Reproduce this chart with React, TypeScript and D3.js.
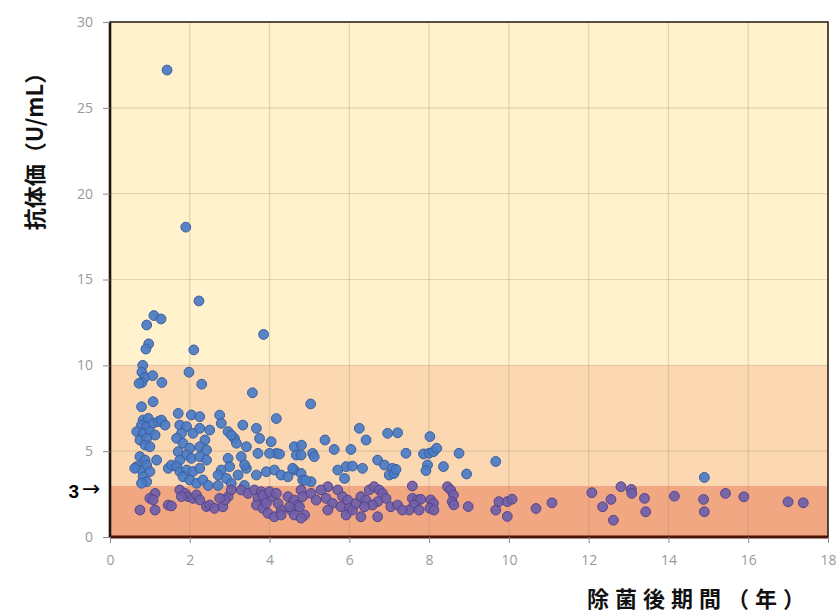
import React, { useEffect, useRef } from 'react';
import * as d3 from 'd3';

// [years after eradication, antibody titer U/mL]
const outliers: [number, number][] = [
  [1.43, 27.2], [1.9, 18.05], [2.23, 13.75], [1.1, 12.9], [1.28, 12.7], [0.92, 12.35],
  [0.97, 11.25], [0.9, 10.95], [2.1, 10.9], [0.82, 10.0], [1.98, 9.6], [0.8, 9.6],
  [0.87, 9.3], [1.07, 9.4], [0.8, 9.0], [1.3, 9.0], [2.3, 8.9], [0.73, 8.95],
  [3.85, 11.8], [3.57, 8.4], [5.03, 7.75], [4.17, 6.9],
];

const early: [number, number][] = [
  [0.79, 7.59], [1.08, 7.88], [0.83, 6.81], [0.96, 6.91], [0.79, 6.52], [0.92, 6.43],
  [1.08, 6.62], [1.21, 6.72], [1.29, 6.81], [1.38, 6.52], [0.67, 6.14], [0.83, 6.04],
  [1.0, 6.14], [1.13, 5.94], [0.75, 5.65], [0.92, 5.75], [0.88, 5.36], [1.0, 5.26],
  [1.71, 7.2], [2.04, 7.11], [2.25, 7.01], [1.75, 6.52], [1.92, 6.43], [1.79, 6.04],
  [1.67, 5.75], [2.08, 6.04], [2.25, 6.33], [2.38, 5.65], [1.83, 5.46], [2.0, 5.17],
  [2.25, 5.26], [2.42, 5.07], [1.71, 4.97], [1.92, 4.78], [1.75, 4.48], [2.04, 4.58],
  [2.25, 4.68], [2.42, 4.48], [0.75, 4.68], [0.88, 4.48], [0.67, 4.1], [0.79, 3.9],
  [0.92, 4.19], [1.0, 3.81], [1.17, 4.48], [0.83, 3.51], [0.92, 3.22], [0.79, 3.13],
  [1.46, 4.0], [1.54, 4.19], [1.67, 4.1], [1.75, 3.81], [1.92, 3.9], [2.08, 3.81],
  [2.25, 4.0], [1.83, 3.51], [2.0, 3.32], [2.17, 3.13], [2.33, 3.32], [0.62, 4.0],
  [1.13, 2.54], [1.0, 2.25], [1.08, 2.16], [1.75, 2.74], [1.88, 2.54], [1.96, 2.35],
  [2.08, 2.25], [1.79, 2.35], [2.17, 2.45], [2.25, 2.16], [0.75, 1.57], [1.13, 1.57],
  [1.46, 1.86], [1.54, 1.81], [2.42, 1.77],
];

const middle: [number, number][] = [
  [2.75, 7.1], [2.79, 6.62], [2.5, 6.23], [2.96, 6.14], [3.12, 5.74], [3.33, 6.52],
  [3.67, 6.33], [3.75, 5.74], [3.42, 5.26], [4.04, 5.55], [4.17, 4.87], [4.0, 4.87],
  [3.71, 4.87], [3.29, 4.68], [2.96, 4.58], [4.62, 5.26], [4.67, 4.77], [4.79, 4.77],
  [3.0, 4.1], [2.79, 3.9], [2.71, 3.61], [2.92, 3.41], [3.42, 4.0], [3.67, 3.61],
  [3.92, 3.8], [4.12, 3.9], [4.29, 3.61], [4.46, 3.51], [4.62, 3.9], [4.79, 3.7],
  [3.21, 3.61], [2.46, 3.0], [2.71, 3.0], [3.04, 3.12], [3.37, 3.0], [3.04, 5.94],
  [3.17, 5.46], [3.375, 4.2], [4.25, 4.83], [4.58, 4.0], [4.83, 3.32], [5.04, 3.22],
  [4.8, 5.35],
  [2.5, 1.86], [2.62, 1.67], [2.83, 1.76], [2.96, 2.35], [3.04, 2.74], [2.88, 2.15],
  [2.75, 2.25], [3.29, 2.74], [3.46, 2.54], [3.62, 2.74], [3.79, 2.64], [3.71, 2.25],
  [3.88, 2.15], [4.04, 2.35], [3.67, 1.86], [3.83, 1.67], [3.96, 1.38], [4.12, 1.18],
  [4.29, 1.57], [4.21, 1.96], [4.46, 2.35], [4.62, 2.15], [4.71, 1.86], [4.54, 1.57],
  [4.62, 1.28], [4.79, 2.74], [3.83, 2.44], [4.0, 2.64], [4.17, 2.54], [3.92, 1.96],
  [4.5, 1.76], [4.29, 1.28], [4.75, 1.76],
];

const later: [number, number][] = [
  [6.25, 6.33], [6.42, 5.65], [6.96, 6.04], [7.21, 6.07], [5.39, 5.65], [5.62, 5.1],
  [6.04, 5.1], [5.08, 4.87], [5.12, 4.68], [5.71, 3.9], [5.92, 4.1], [6.08, 4.13],
  [6.33, 4.0], [5.88, 3.41], [6.71, 4.48], [6.88, 4.19], [7.08, 4.0], [7.0, 3.61],
  [7.12, 3.7], [4.9, 3.3], [5.46, 2.93],
  [4.83, 2.35], [5.04, 2.54], [5.17, 2.15], [5.29, 2.74], [5.42, 2.25], [5.58, 1.96],
  [5.46, 1.57], [5.71, 2.74], [5.83, 2.35], [5.96, 2.15], [5.79, 1.76], [6.0, 1.67],
  [5.92, 1.28], [6.08, 1.57], [6.17, 1.96], [6.29, 2.35], [6.42, 2.15], [6.5, 2.74],
  [6.62, 2.93], [6.75, 2.74], [6.83, 2.54], [6.92, 2.25], [6.71, 2.06], [6.58, 1.86],
  [6.38, 1.76], [6.29, 1.18], [7.04, 1.76], [7.21, 1.86], [6.71, 1.18], [4.88, 1.28],
  [4.79, 1.1],
  [8.02, 5.85], [7.42, 4.88], [7.86, 4.84], [8.0, 4.88], [8.11, 4.97], [8.19, 5.17],
  [8.75, 4.88], [7.17, 3.94], [7.96, 4.2], [7.92, 3.87], [8.36, 4.1], [8.94, 3.67],
  [9.67, 4.4], [7.58, 2.97], [8.46, 2.93], [8.54, 2.74], [8.61, 2.45],
  [7.58, 2.25], [7.71, 2.16], [7.79, 2.2], [7.62, 1.87], [7.75, 1.57], [7.5, 1.57],
  [7.33, 1.57], [8.04, 2.16], [8.11, 1.96], [8.02, 1.67], [8.12, 1.57], [8.58, 2.06],
  [8.62, 1.87], [8.98, 1.77], [9.67, 1.57], [9.75, 2.06], [9.96, 2.06], [10.08, 2.2],
  [9.96, 1.2],
];

const longTerm: [number, number][] = [
  [10.68, 1.66], [11.08, 1.99], [12.08, 2.58], [12.35, 1.76], [12.56, 2.19], [12.62, 0.98],
  [12.81, 2.93], [13.07, 2.77], [13.08, 2.54], [13.4, 2.25], [13.43, 1.47], [14.15, 2.38],
  [14.9, 3.47], [14.88, 2.19], [14.9, 1.47], [15.43, 2.54], [15.89, 2.34], [17.0, 2.05],
  [17.38, 1.99],
];

const yearTicks = [0, 2, 4, 6, 8, 10, 12, 14, 16, 18];
const titerTicks = [0, 5, 10, 15, 20, 25, 30];
// background zones: [from, to, colour]
const zones: [number, number, string][] = [
  [0, 3, '#f1a781'],
  [3, 10, '#fbd8b1'],
  [10, 30, '#fff2cc'],
];
const cutoff = 3;

const App = () => {
  const ref = useRef<SVGSVGElement>(null);

  useEffect(() => {
    const svg = d3.select(ref.current);
    svg.selectAll('*').remove();

    const left = 110, right = 828, top = 22, bottom = 537;
    const x = d3.scaleLinear().domain([0, 18]).range([left, right]);
    const y = d3.scaleLinear().domain([0, 30]).range([bottom, top]);

    // zones
    svg.append('g')
      .selectAll('rect')
      .data(zones)
      .enter()
      .append('rect')
      .attr('x', left)
      .attr('width', right - left)
      .attr('y', (d) => y(d[1]))
      .attr('height', (d) => y(d[0]) - y(d[1]))
      .attr('fill', (d) => d[2]);

    // grid
    const grid = svg.append('g').attr('stroke', '#a58a68').attr('stroke-opacity', 0.3).attr('stroke-width', 1.2);
    grid.selectAll('.v')
      .data(yearTicks.slice(1, -1))
      .enter()
      .append('line')
      .attr('x1', (d) => x(d)).attr('x2', (d) => x(d))
      .attr('y1', top).attr('y2', bottom);
    grid.selectAll('.h')
      .data(titerTicks.slice(1, -1))
      .enter()
      .append('line')
      .attr('y1', (d) => y(d)).attr('y2', (d) => y(d))
      .attr('x1', left).attr('x2', right);

    // points
    const points = [...outliers, ...early, ...middle, ...later, ...longTerm];
    svg.append('g')
      .selectAll('circle')
      .data(points)
      .enter()
      .append('circle')
      .attr('cx', (d) => x(d[0]))
      .attr('cy', (d) => y(d[1]))
      .attr('r', 4.9)
      .attr('fill', (d) => (d[1] < cutoff ? '#6f5ea8' : '#4a7bc4'))
      .attr('fill-opacity', 0.92)
      .attr('stroke', (d) => (d[1] < cutoff ? '#56458c' : '#3a5f9e'))
      .attr('stroke-width', 1);

    // frame
    svg.append('rect')
      .attr('x', left).attr('y', top)
      .attr('width', right - left).attr('height', bottom - top)
      .attr('fill', 'none').attr('stroke', '#2e211a').attr('stroke-width', 1.6);
    svg.append('line')
      .attr('x1', left).attr('x2', left).attr('y1', top).attr('y2', bottom)
      .attr('stroke', '#1e1410').attr('stroke-width', 2.6);
    svg.append('line')
      .attr('x1', left).attr('x2', right).attr('y1', bottom).attr('y2', bottom)
      .attr('stroke', '#4a160a').attr('stroke-width', 3);

    // axes
    const font = '"Open Sans", "DejaVu Sans", sans-serif';
    const yAxis = svg.append('g')
      .attr('transform', `translate(${left},0)`)
      .call(d3.axisLeft(y).tickValues(titerTicks).tickSize(7).tickPadding(10));
    yAxis.select('.domain').remove();
    yAxis.selectAll('line').attr('stroke', '#8a8a8a');
    yAxis.selectAll('text').attr('fill', '#999').style('font-size', '14px').style('font-family', font);

    const xAxis = svg.append('g')
      .attr('transform', `translate(0,${bottom})`)
      .call(d3.axisBottom(x).tickValues(yearTicks).tickSize(6).tickPadding(12));
    xAxis.select('.domain').remove();
    xAxis.selectAll('line').attr('stroke', '#8a8a8a');
    xAxis.selectAll('text').attr('fill', '#999').style('font-size', '14px').style('font-family', font);

    // titles
    const jp = '"Noto Sans CJK JP", sans-serif';
    svg.append('text')
      .attr('transform', 'translate(43,146) rotate(-90)')
      .attr('text-anchor', 'middle')
      .style('font-family', jp)
      .style('font-weight', 'bold')
      .style('font-size', '22px')
      .attr('fill', '#111')
      .text('抗体価（U/mL）');

    svg.append('text')
      .attr('x', 587)
      .attr('y', 607)
      .style('font-family', jp)
      .style('font-weight', 'bold')
      .style('font-size', '22px')
      .style('letter-spacing', '6px')
      .attr('fill', '#111')
      .text('除菌後期間（年）');

    // cutoff marker
    svg.append('text')
      .attr('x', 79)
      .attr('y', y(cutoff) + 12)
      .attr('text-anchor', 'end')
      .style('font-family', '"Liberation Sans", sans-serif')
      .style('font-weight', 'bold')
      .style('font-size', '19px')
      .attr('fill', '#000')
      .text('3');
    svg.append('text')
      .attr('x', 82)
      .attr('y', y(cutoff) + 10)
      .style('font-family', '"DejaVu Sans", sans-serif')
      .style('font-size', '22px')
      .attr('fill', '#000')
      .text('→');
  }, []);

  return (
    <svg
      ref={ref}
      width={838}
      height={615}
      style={{ position: 'absolute', left: 0, top: 0, background: '#fff' }}
    />
  );
};

export default App;
